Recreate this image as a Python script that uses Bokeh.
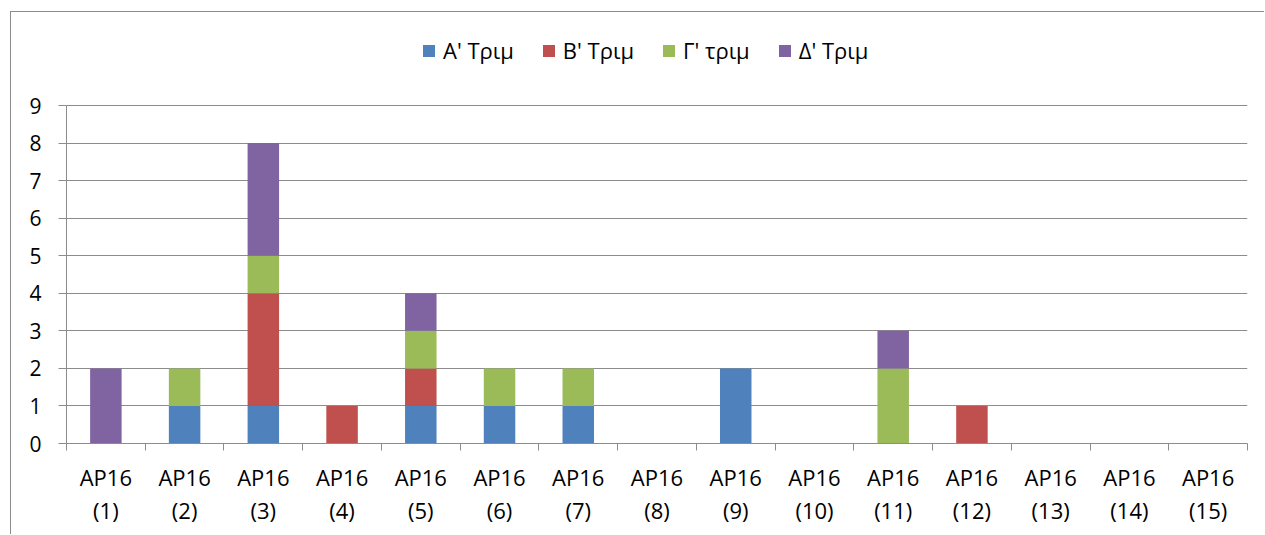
from bokeh.plotting import figure
from bokeh.models import Range1d, FixedTicker, Legend, LegendItem
from bokeh.embed import file_html
from bokeh.resources import INLINE

# Quarterly counts per AP16 item
categories = [f"AP16\n({i})" for i in range(1, 16)]
q1 = [0, 1, 1, 0, 1, 1, 1, 0, 2, 0, 0, 0, 0, 0, 0]
q2 = [0, 0, 3, 1, 1, 0, 0, 0, 0, 0, 0, 1, 0, 0, 0]
q3 = [0, 1, 1, 0, 1, 1, 1, 0, 0, 0, 2, 0, 0, 0, 0]
q4 = [2, 0, 3, 0, 1, 0, 0, 0, 0, 0, 1, 0, 0, 0, 0]
series_names = ["A' Τριμ", "B' Τριμ", "Γ' τριμ", "Δ' Τριμ"]
colors = ["#4F81BD", "#C0504D", "#9BBB59", "#8064A2"]
y_ticks = list(range(0, 10))

FONT = "Open Sans"
GRID = "#8c8c8c"

n = len(categories)
centers = [i + 0.5 for i in range(n)]
data = {"x": centers, "q1": q1, "q2": q2, "q3": q3, "q4": q4}

# value axis spans 0..9 over 338 px; the frame reaches up to the top edge
# so the legend can sit inside it above the bars
frame_h = 431
y_top = frame_h * 9 / 338

p = figure(
    width=1254, height=523,
    x_range=Range1d(0, n), y_range=Range1d(0, y_top),
    output_backend="svg", toolbar_location=None,
    min_border_left=55, min_border_right=18,
    min_border_top=0, min_border_bottom=92,
    outline_line_color=None,
    margin=(11, 0, 0, 10),
    styles={"border-left": "1px solid #8c8c8c", "border-top": "1px solid #8c8c8c"},
)

renderers = p.vbar_stack(["q1", "q2", "q3", "q4"], x="x", width=0.4,
                         color=colors, line_color=None, source=data)

# x axis: labels at bar centres, short ticks on category boundaries
p.xaxis.ticker = FixedTicker(ticks=centers, minor_ticks=list(range(n + 1)))
p.xaxis.major_label_overrides = {c: lab for c, lab in zip(centers, categories)}
p.xaxis.major_tick_out = 0
p.xaxis.major_tick_in = 0
p.xaxis.minor_tick_out = 7
p.xaxis.minor_tick_in = 0
p.xaxis.minor_tick_line_color = GRID
p.xaxis.axis_line_color = GRID
p.xaxis.major_label_text_font = FONT
p.xaxis.major_label_text_font_size = "22px"
p.xaxis.major_label_text_color = "#000000"
p.xaxis.major_label_text_line_height = 1.1
p.xaxis.major_label_standoff = 11
p.xgrid.visible = False

# y axis
p.yaxis.ticker = FixedTicker(ticks=y_ticks)
p.yaxis.bounds = (0, 9)
p.yaxis.major_tick_out = 8
p.yaxis.major_tick_in = 0
p.yaxis.minor_tick_line_color = None
p.yaxis.major_tick_line_color = GRID
p.yaxis.axis_line_color = GRID
p.yaxis.major_label_text_font = FONT
p.yaxis.major_label_text_font_size = "21px"
p.yaxis.major_label_text_color = "#000000"
p.yaxis.major_label_standoff = 17
p.ygrid.grid_line_color = GRID
p.ygrid.grid_line_width = 1
p.ygrid.bounds = (0, 9)

legend = Legend(
    items=[LegendItem(label=name, renderers=[r]) for name, r in zip(series_names, renderers)],
    orientation="horizontal",
    location=(355, 378),
    glyph_width=15, glyph_height=15,
    label_standoff=7, spacing=27,
    padding=0, margin=0,
    border_line_color=None, background_fill_alpha=0,
    label_text_font=FONT, label_text_font_size="22px", label_text_color="#000000",
)
p.add_layout(legend, "center")

open("out.html", "w").write(file_html(p, INLINE))
